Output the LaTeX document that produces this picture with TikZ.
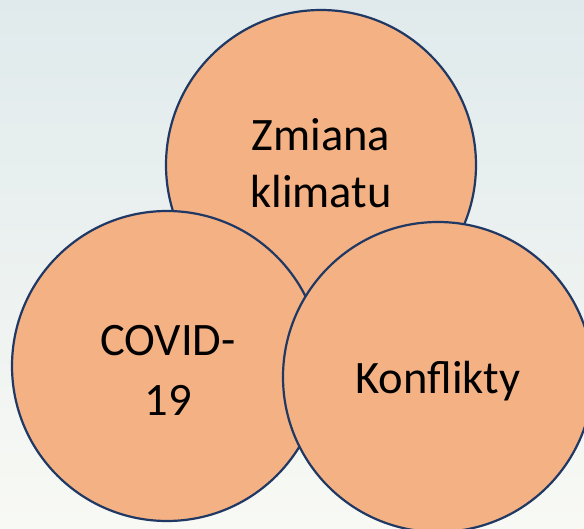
\documentclass[tikz,border=0pt]{standalone}
\usepackage{fontspec}
\setmainfont{Carlito}
\definecolor{circfill}{HTML}{F4B183}
\definecolor{circline}{HTML}{1F3864}
\definecolor{bgtop}{HTML}{E0EAEC}
\definecolor{bgbot}{HTML}{F8F9F4}
\begin{document}
\begin{tikzpicture}[x=1pt,y=1pt,
  bubble/.style={circle,draw=circline,fill=circfill,line width=2.2pt,minimum size=310pt,inner sep=0pt},
  lbl/.style={font=\fontsize{46.5}{57}\selectfont,text=black,inner sep=0pt,anchor=base}]
\useasboundingbox (0,0) rectangle (584,-529);
\shade[top color=bgtop,bottom color=bgbot] (0,0) rectangle (584,-529);
\node[bubble] (clim) at (321,-165) {};
\node[bubble] (covid) at (167,-366) {};
\node[bubble] (konf) at (438,-377) {};
\node[lbl] (t1) at (321,-151) {Zmiana};
\node[lbl] (t2) at (321,-208) {klimatu};
\node[lbl] (t3) at (168,-356) {COVID-};
\node[lbl] (t4) at (168,-415) {19};
\node[lbl] (t5) at (438,-394) {Konflikty};
\end{tikzpicture}
\end{document}
